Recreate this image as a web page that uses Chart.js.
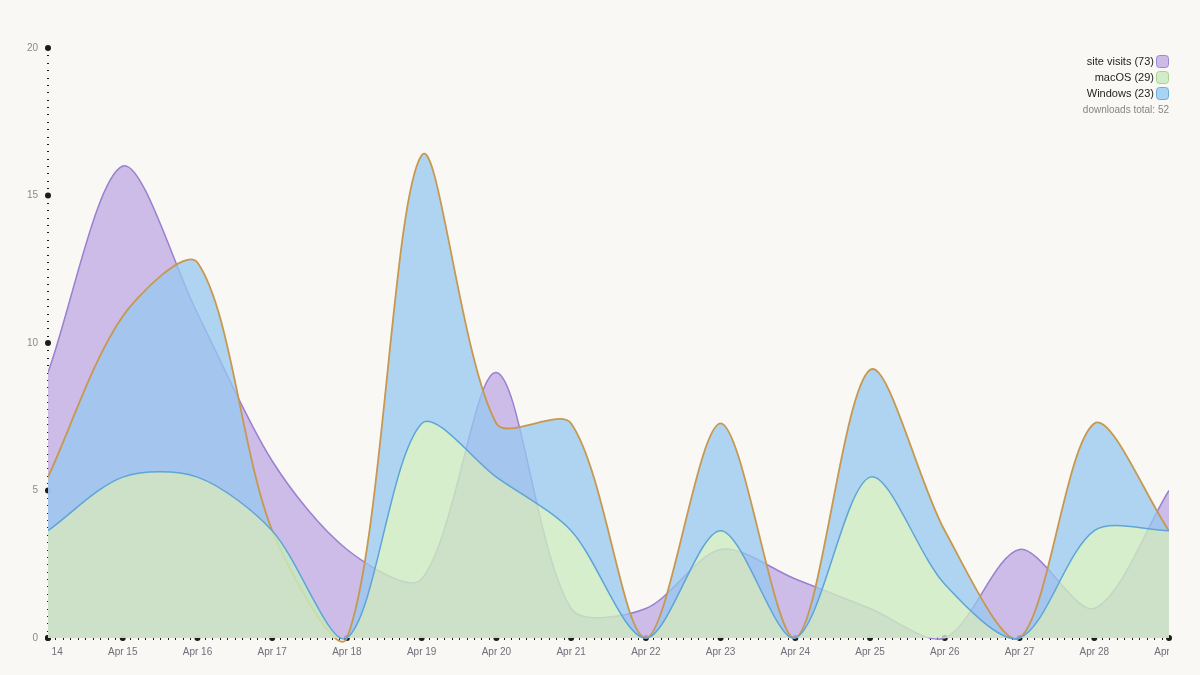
<!DOCTYPE html>
<html>
<head>
<meta charset="utf-8">
<script src="https://cdn.jsdelivr.net/npm/chart.js@4.4.0/dist/chart.umd.min.js"></script>
<style>
  html, body { margin: 0; padding: 0; background: #f9f8f5; }
  #wrap { width: 1200px; height: 675px; }
</style>
</head>
<body>
<div id="wrap"><canvas id="chart" width="1200" height="675"></canvas></div>
<script>
const days = ["Apr 14", "Apr 15", "Apr 16", "Apr 17", "Apr 18", "Apr 19", "Apr 20", "Apr 21",
  "Apr 22", "Apr 23", "Apr 24", "Apr 25", "Apr 26", "Apr 27", "Apr 28", "Apr 29"];
const siteVisits = [9, 16, 11, 6, 3, 2, 9, 1, 1, 3, 2, 1, 0, 3, 1, 5];
const macOS = [2, 3, 3, 2, 0, 4, 3, 2, 0, 2, 0, 3, 1, 0, 2, 2];
const windows = [1, 3, 4, 0, 0, 5, 1, 2, 0, 2, 0, 2, 1, 0, 2, 0];
const yTicks = [0, 5, 10, 15, 20];

const sum = (a) => a.reduce((s, v) => s + v, 0);

const legendRows = [
  { label: `site visits (${sum(siteVisits)})`, fill: "#cbbbe6", stroke: "#9f86d2" },
  { label: `macOS (${sum(macOS)})`, fill: "#d3ecc8", stroke: "#a6d196" },
  { label: `Windows (${sum(windows)})`, fill: "#a9d3f2", stroke: "#6aaedc" },
];
const downloadsTotal = `downloads total: ${sum(macOS) + sum(windows)}`;

// ticks, dots and dashes that sit behind the areas
const axisBackPlugin = {
  id: "axisBack",
  beforeDatasetsDraw(chart) {
    const { ctx, chartArea, scales } = chart;
    const x = scales.x, y = scales.y;
    ctx.save();
    ctx.fillStyle = "#1c1c1c";
    // y minor dashes every 0.25
    for (let v = 0; v <= 20.001; v += 0.25) {
      const py = Math.round(y.getPixelForValue(v));
      ctx.fillRect(chartArea.left - 1, py, 2, 1);
    }
    // x minor ticks, 10 per day
    for (let i = 0; i < days.length - 1; i++) {
      const a = x.getPixelForValue(i), b = x.getPixelForValue(i + 1);
      for (let k = 1; k < 10; k++) {
        const px = Math.round(a + (b - a) * k / 10);
        ctx.fillRect(px, chartArea.bottom - 1, 1, 3);
      }
    }
    // major dots
    yTicks.forEach((v) => {
      ctx.beginPath();
      ctx.arc(chartArea.left, y.getPixelForValue(v), 3, 0, Math.PI * 2);
      ctx.fill();
    });
    days.forEach((d, i) => {
      ctx.beginPath();
      ctx.arc(x.getPixelForValue(i), chartArea.bottom, 3, 0, Math.PI * 2);
      ctx.fill();
    });
    ctx.restore();
  },
};

// labels and legend on top
const labelsPlugin = {
  id: "labels",
  afterDraw(chart) {
    const { ctx, chartArea, scales } = chart;
    const x = scales.x, y = scales.y;
    ctx.save();
    ctx.font = "10px 'Liberation Sans', Arial, sans-serif";
    ctx.fillStyle = "#8a8a8a";
    ctx.textAlign = "right";
    ctx.textBaseline = "middle";
    yTicks.forEach((v) => ctx.fillText(String(v), chartArea.left - 10, y.getPixelForValue(v)));

    // x labels clipped to the plot width
    ctx.save();
    ctx.beginPath();
    ctx.rect(chartArea.left + 1, chartArea.bottom, chartArea.right - chartArea.left - 1, 40);
    ctx.clip();
    ctx.fillStyle = "#6f6f78";
    ctx.textAlign = "center";
    days.forEach((d, i) => ctx.fillText(d, x.getPixelForValue(i), chartArea.bottom + 14));
    ctx.restore();

    // legend
    const right = 1169;
    ctx.font = "11px 'Liberation Sans', Arial, sans-serif";
    legendRows.forEach((r, i) => {
      const cy = 62 + i * 16;
      ctx.fillStyle = "#1e1e1e";
      ctx.textAlign = "right";
      ctx.fillText(r.label, right - 15, cy);
      ctx.beginPath();
      ctx.roundRect(right - 12.5, cy - 6.5, 12, 12, 3);
      ctx.fillStyle = r.fill;
      ctx.fill();
      ctx.strokeStyle = r.stroke;
      ctx.lineWidth = 1;
      ctx.stroke();
    });
    ctx.font = "10px 'Liberation Sans', Arial, sans-serif";
    ctx.fillStyle = "#858585";
    ctx.fillText(downloadsTotal, right, 110);
    ctx.restore();
  },
};

const config = {
  type: "line",
  data: {
    labels: days,
    datasets: [
      {
        label: "macOS",
        data: macOS,
        yAxisID: "y2",
        fill: "origin",
        backgroundColor: "rgba(205, 235, 192, 0.8)",
        borderColor: "#5ea5d6",
        borderWidth: 1.5,
        order: 0,
      },
      {
        label: "Windows",
        data: windows,
        yAxisID: "y2",
        fill: "-1",
        backgroundColor: "rgba(150, 200, 240, 0.75)",
        borderColor: "#c7984f",
        borderWidth: 1.8,
        order: 1,
      },
      {
        label: "site visits",
        data: siteVisits,
        yAxisID: "y",
        fill: "origin",
        backgroundColor: "rgba(196, 178, 228, 0.85)",
        borderColor: "#9a80d0",
        borderWidth: 1.5,
        order: 2,
      },
    ],
  },
  options: {
    responsive: false,
    animation: false,
    layout: { padding: { left: 48, right: 31, top: 48, bottom: 37 } },
    elements: {
      point: { radius: 0 },
      line: { tension: 0.3, capBezierPoints: false },
    },
    datasets: { line: { clip: { left: 0, right: 0, top: 10, bottom: 10 } } },
    scales: {
      x: { type: "category", display: false, offset: false },
      y: { display: false, min: 0, max: 20 },
      y2: { display: false, min: 0, max: 11, stacked: true },
    },
    plugins: {
      legend: { display: false },
      tooltip: { enabled: false },
    },
  },
  plugins: [axisBackPlugin, labelsPlugin],
};

new Chart(document.getElementById("chart"), config);
</script>
</body>
</html>
